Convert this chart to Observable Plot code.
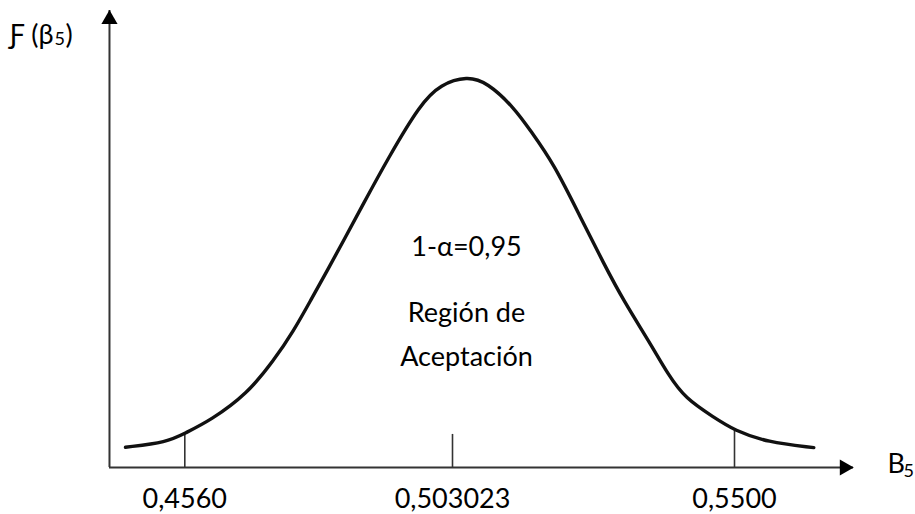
<!DOCTYPE html>
<html><head><meta charset="utf-8">
<script src="https://cdn.jsdelivr.net/npm/d3@7"></script>
<script src="https://cdn.jsdelivr.net/npm/@observablehq/plot@0.6"></script>
<style>body{margin:0;background:#fff}</style>
</head><body><div id="chart"></div>
<script>
// Curve: beta values and relative density F(beta)
const curveB = [0.44558, 0.45291, 0.4560, 0.46051, 0.46696, 0.47163, 0.47515, 0.47808, 0.48101, 0.48393, 0.48722, 0.49178, 0.49740, 0.50092, 0.50547, 0.50880, 0.51324, 0.51602, 0.51990, 0.52435, 0.52823, 0.53151, 0.53601, 0.53901, 0.54184, 0.54655, 0.5500, 0.55545, 0.56321];
const curveF = [0.052, 0.065, 0.088, 0.121, 0.189, 0.275, 0.352, 0.429, 0.506, 0.584, 0.674, 0.797, 0.935, 0.985, 1.006, 0.99, 0.926, 0.866, 0.781, 0.643, 0.524, 0.429, 0.318, 0.237, 0.177, 0.129, 0.095, 0.065, 0.051];
const tickValues = [0.4560, 0.503023, 0.5500];
const tickLabels = ["0,4560", "0,503023", "0,5500"];
const tickTops = [0.088, 0.085, 0.095];
const axisXStart = 0.44277, axisXEnd = 0.56982, axisYTop = 1.175;
const yLabelMain = "Ƒ (β", yLabelSub = "5", yLabelEnd = ")";
const xLabelMain = "B", xLabelSub = "5";
const confLabel = "1-α=0,95";
const regionLabel = "Región de\nAceptación";

const curve = curveB.map((b, i) => ({b, f: curveF[i]}));
const ticks = tickValues.map((b, i) => ({b, top: tickTops[i]}));
const font = "Lato, 'Open Sans', sans-serif";
const ink = "#333";
const fs = 27, fsSub = 18;

const chart = Plot.plot({
  width: 915, height: 514,
  marginLeft: 0, marginRight: 0, marginTop: 0, marginBottom: 47,
  style: {fontFamily: font, background: "#fff", color: "#000"},
  x: {type: "linear", domain: tickValues, range: [184.3, 452, 734], axis: null},
  y: {domain: [0, 1], range: [467, 78], axis: null},
  marks: [
    Plot.ruleY([{y: 0}], {y: "y", x1: axisXStart, x2: axisXEnd, stroke: ink, strokeWidth: 2}),
    Plot.ruleX([{x: axisXStart}], {x: "x", y1: 0, y2: axisYTop, stroke: ink, strokeWidth: 2}),
    Plot.dot([{x: axisXEnd, y: 0}], {x: "x", y: "y", symbol: "triangle", r: 6, rotate: 90, fill: "#000", stroke: "none", dx: -9}),
    Plot.dot([{x: axisXStart, y: axisYTop}], {x: "x", y: "y", symbol: "triangle", r: 6, fill: "#000", stroke: "none", dy: 9}),
    Plot.ruleX(ticks, {x: "b", y1: 0, y2: "top", stroke: ink, strokeWidth: 1.6}),
    Plot.line(curve, {x: "b", y: "f", curve: "basis", stroke: "#111", strokeWidth: 3.4}),
    Plot.axisX(tickValues, {ticks: tickValues, tickSize: 0, tickPadding: 21, tickFormat: (d, i) => tickLabels[i], fontSize: fs, fill: "#000", label: null}),
    Plot.text([yLabelMain], {frameAnchor: "top-left", dx: 53, dy: 43, textAnchor: "end", lineAnchor: "bottom", fontSize: fs, fill: "#000"}),
    Plot.text([yLabelSub], {frameAnchor: "top-left", dx: 54, dy: 44, textAnchor: "start", lineAnchor: "bottom", fontSize: fsSub, fill: "#000"}),
    Plot.text([yLabelEnd], {frameAnchor: "top-left", dx: 65, dy: 43, textAnchor: "start", lineAnchor: "bottom", fontSize: fs, fill: "#000"}),
    Plot.text([xLabelMain], {frameAnchor: "top-left", dx: 887, dy: 472, textAnchor: "start", lineAnchor: "bottom", fontSize: fs, fill: "#000"}),
    Plot.text([xLabelSub], {frameAnchor: "top-left", dx: 903, dy: 476, textAnchor: "start", lineAnchor: "bottom", fontSize: fsSub, fill: "#000"}),
    Plot.text([confLabel], {frameAnchor: "top-left", dx: 466, dy: 255, textAnchor: "middle", lineAnchor: "bottom", fontSize: fs, fill: "#000"}),
    Plot.text([regionLabel], {frameAnchor: "top-left", dx: 466, dy: 365, textAnchor: "middle", lineAnchor: "bottom", lineHeight: 1.63, fontSize: fs, fill: "#000"})
  ]
});
document.getElementById("chart").appendChild(chart);
</script>
</body></html>
